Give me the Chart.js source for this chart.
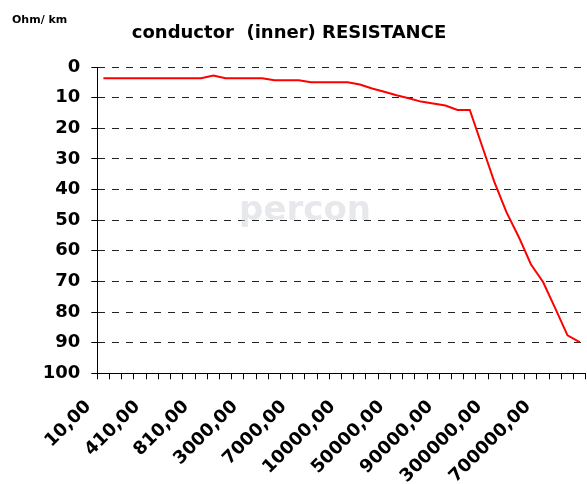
<!DOCTYPE html>
<html>
<head>
<meta charset="utf-8">
<script src="https://cdn.jsdelivr.net/npm/chart.js@4"></script>
<style>
  html, body { margin: 0; padding: 0; background: #fff; overflow: hidden; }
  #wrap { position: relative; width: 612px; height: 484px; }
</style>
</head>
<body>
<div id="wrap"><canvas id="chart" width="612" height="484"></canvas></div>
<script>
// x categories (frequency), only every 4th one is labelled
var categories = [
  '10,00', '110,00', '210,00', '310,00', '410,00', '510,00', '610,00', '710,00',
  '810,00', '910,00', '1000,00', '2000,00', '3000,00', '4000,00', '5000,00', '6000,00',
  '7000,00', '8000,00', '9000,00', '9500,00', '10000,00', '20000,00', '30000,00', '40000,00',
  '50000,00', '60000,00', '70000,00', '80000,00', '90000,00', '100000,00', '200000,00', '250000,00',
  '300000,00', '400000,00', '500000,00', '600000,00', '700000,00', '800000,00', '900000,00', '1000000,00'
];

// Ohm/km
var resistance = [
  3.7, 3.7, 3.7, 3.7, 3.7, 3.7, 3.7, 3.7,
  3.7, 2.8, 3.7, 3.7, 3.7, 3.7, 4.3, 4.3,
  4.3, 5.0, 5.0, 5.0, 5.0, 5.7, 7.0, 8.1,
  9.2, 10.2, 11.3, 11.9, 12.6, 14.0, 14.0, 25.7,
  37.4, 47.4, 55.4, 64.4, 70.2, 78.8, 87.6, 89.8
];

var yTicks = [0, 10, 20, 30, 40, 50, 60, 70, 80, 90, 100];

var titleText = 'conductor  (inner) RESISTANCE';
var unitText = 'Ohm/ km';

var FONT = "'DejaVu Sans', sans-serif";

// title, unit and the faint logo are drawn by hand so they sit where the original has them
var extras = {
  id: 'extras',
  beforeDatasetsDraw: function(chart) {
    var ctx = chart.ctx;
    ctx.save();
    ctx.fillStyle = 'rgba(205,210,216,0.5)';
    ctx.font = 'bold 34px ' + FONT;
    ctx.textAlign = 'center';
    ctx.textBaseline = 'middle';
    ctx.fillText('percon', 305, 211);
    ctx.restore();
  },
  afterDraw: function(chart) {
    var ctx = chart.ctx;
    ctx.save();
    ctx.fillStyle = '#000';
    ctx.font = 'bold 18px ' + FONT;
    ctx.textAlign = 'center';
    ctx.textBaseline = 'middle';
    ctx.fillText(titleText, 289, 33);
    ctx.font = 'bold 11px ' + FONT;
    ctx.textAlign = 'left';
    ctx.textBaseline = 'alphabetic';
    ctx.fillText(unitText, 12, 23);
    ctx.restore();
  }
};

new Chart(document.getElementById('chart'), {
  type: 'line',
  data: {
    labels: categories,
    datasets: [{
      data: resistance,
      borderColor: '#ff0000',
      borderWidth: 2,
      pointRadius: 0,
      tension: 0,
      fill: false
    }]
  },
  options: {
    responsive: false,
    animation: false,
    layout: { padding: { left: 0, right: 1, top: 67, bottom: 0 } },
    plugins: {
      legend: { display: false },
      tooltip: { enabled: false },
      title: { display: false }
    },
    scales: {
      x: {
        offset: true,
        grid: {
          display: true,
          offset: true,
          drawOnChartArea: false,
          drawTicks: true,
          tickLength: 6,
          color: '#000'
        },
        border: { display: true, color: '#000', width: 1 },
        ticks: {
          autoSkip: false,
          maxRotation: 45,
          minRotation: 45,
          padding: 17,
          labelOffset: -15,
          color: '#000',
          font: { family: FONT, size: 18, weight: 'bold' },
          callback: function(val, i) {
            return i % 4 === 0 ? categories[i] : '';
          }
        },
        afterFit: function(scale) { scale.height = 110.7; }
      },
      y: {
        reverse: true,
        min: yTicks[0],
        max: yTicks[yTicks.length - 1],
        grid: {
          color: '#222',
          lineWidth: 1,
          tickLength: 6,
          tickColor: '#000',
          drawTicks: true
        },
        border: { display: true, color: '#000', width: 1, dash: [7, 7] },
        ticks: {
          stepSize: 10,
          padding: 11,
          color: '#000',
          font: { family: FONT, size: 18, weight: 'bold' }
        },
        afterFit: function(scale) { scale.width = 97.3; }
      }
    }
  },
  plugins: [extras]
});
</script>
</body>
</html>
